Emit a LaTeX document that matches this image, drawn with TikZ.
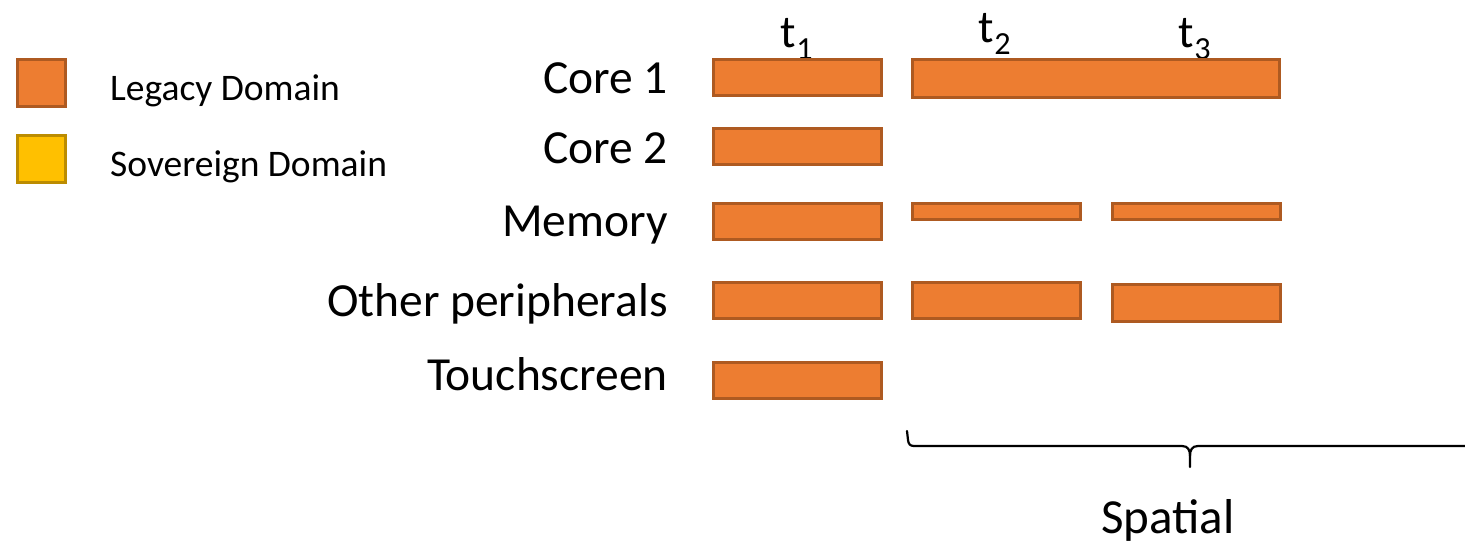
\documentclass[tikz,border=0pt]{standalone}
\usepackage{fontspec}
\setmainfont{Carlito}
\definecolor{legacy}{HTML}{ED7D31}
\definecolor{legacyline}{HTML}{AE5A21}
\definecolor{sovereign}{HTML}{FFC000}
\definecolor{sovereignline}{HTML}{BC8C00}
\begin{document}
\begin{tikzpicture}[x=1pt,y=-1pt,
  bar/.style={draw=legacyline,fill=legacy,line width=2.5pt,anchor=north west,inner sep=0pt,minimum width=#1},
  bar/.default=168pt,
  rowlabel/.style={anchor=base east,inner sep=0pt,font=\fontsize{47.5}{50}\selectfont},
  legtext/.style={anchor=base west,inner sep=0pt,font=\fontsize{37.5}{40}\selectfont},
  timelabel/.style={anchor=base,inner sep=0pt,font=\fontsize{46}{50}\selectfont}]
\useasboundingbox (0,0) rectangle (1465,546);
% legend
\node[draw=legacyline,fill=legacy,line width=2.5pt,minimum width=48pt,minimum height=47pt,anchor=north west,inner sep=0pt] (legL) at (16,58) {};
\node[draw=sovereignline,fill=sovereign,line width=2.5pt,minimum width=48pt,minimum height=47pt,anchor=north west,inner sep=0pt] (legS) at (16,134) {};
\node[legtext] (legLt) at (110,100) {Legacy Domain};
\node[legtext] (legSt) at (110,176) {Sovereign Domain};
% row labels
\node[rowlabel] (lc1) at (668,93) {Core 1};
\node[rowlabel] (lc2) at (668,163) {Core 2};
\node[rowlabel] (lmem) at (668,236) {Memory};
\node[rowlabel] (loth) at (668,316) {Other peripherals};
\node[rowlabel] (ltou) at (668,390) {Touchscreen};
% time labels
\node[timelabel] (t1) at (797,47) {t\textsubscript{1}};
\node[timelabel] (t2) at (995,42) {t\textsubscript{2}};
\node[timelabel] (t3) at (1195,47) {t\textsubscript{3}};
% bars
\node[bar,minimum height=36pt] (c1a) at (712,58) {};
\node[bar=367pt,minimum height=38pt] (c1b) at (911,58) {};
\node[bar,minimum height=36pt] (c2a) at (712,127) {};
\node[bar,minimum height=36pt] (ma) at (712,202) {};
\node[bar,minimum height=16pt] (mb) at (911,202) {};
\node[bar,minimum height=16pt] (mc) at (1111,202) {};
\node[bar,minimum height=36pt] (oa) at (712,281) {};
\node[bar,minimum height=36pt] (ob) at (911,281) {};
\node[bar,minimum height=37pt] (oc) at (1111,283) {};
\node[bar,minimum height=36pt] (ta) at (712,361) {};
% brace
\begin{scope}
\clip (0,0) rectangle (1465,546);
\draw[line width=2.2pt,line cap=round]
  (907,431) -- (908,440) .. controls (908.5,444) and (910,446) .. (914,446)
  -- (1182,446) .. controls (1188,446) and (1190,450) .. (1190,456) -- (1190,467);
\draw[line width=2.2pt]
  (1190,456) .. controls (1190,450) and (1192,446) .. (1198,446) -- (1470,446);
\end{scope}
\node[anchor=base,inner sep=0pt,font=\fontsize{49}{52}\selectfont] (spatial) at (1168,533) {Spatial};
\end{tikzpicture}
\end{document}
